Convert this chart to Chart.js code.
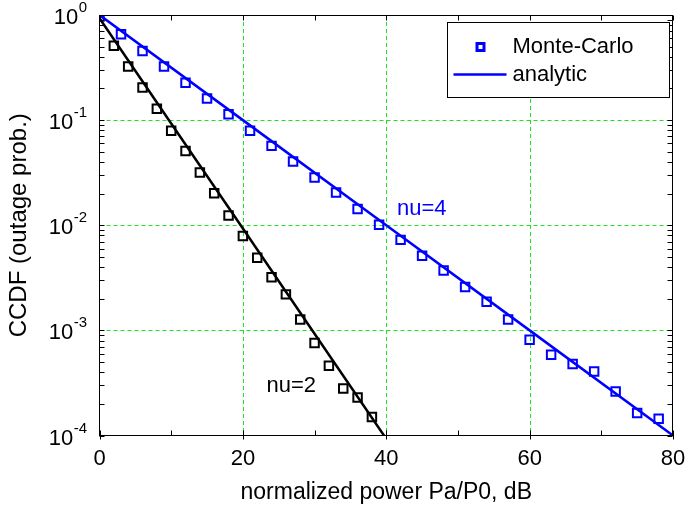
<!DOCTYPE html>
<html lang="en">
<head>
  <meta charset="UTF-8">
  <title>CCDF (outage prob.)</title>
  <script src="https://cdn.jsdelivr.net/npm/chart.js"></script>
  <style>
    html, body { margin: 0; padding: 0; background: #fff; }
  </style>
</head>
<body>
  <canvas id="ccdfChart" width="685" height="510"></canvas>

  <script>
    // Monte-Carlo points, nu=2 (black squares)
    const nu2X = [2, 4, 6, 8, 10, 12, 14, 16, 18, 20, 22, 24, 26, 28, 30, 32, 34, 36, 38];
    const nu2Y = [0.51, 0.323, 0.204, 0.128, 0.0794, 0.0509, 0.0317, 0.0202, 0.0124, 0.0079,
                  0.0049, 0.0032, 0.0022, 0.00127, 0.00076, 0.00046, 0.00028, 0.00023, 0.00015];

    // Monte-Carlo points, nu=4 (blue squares)
    const nu4X = [0, 3, 6, 9, 12, 15, 18, 21, 24, 27, 30, 33, 36, 39, 42, 45, 48, 51, 54,
                  57, 60, 63, 66, 69, 72, 75, 78];
    const nu4Y = [0.97, 0.656, 0.455, 0.323, 0.227, 0.161, 0.114, 0.0794, 0.0569, 0.0403,
                  0.0284, 0.0205, 0.0143, 0.0101, 0.00726, 0.00512, 0.00371, 0.00258, 0.00187,
                  0.00127, 0.000815, 0.000586, 0.000479, 0.000407, 0.000262, 0.000164, 0.000144];

    // analytic curves
    const nu2LineX = [0, 10, 20, 30, 40];
    const nu2LineY = [0.93, 0.093, 0.0093, 0.00093, 0.000093];
    const nu4LineX = [0, 20, 40, 60, 80];
    const nu4LineY = [1, 0.1, 0.01, 0.001, 0.0001];

    // axes
    const xGrid = [20, 40, 60];
    const xMinorTicks = [10, 30, 50, 70];
    const yDecades = [1, 0.1, 0.01, 0.001, 0.0001];
    const yExponents = ['0', '-1', '-2', '-3', '-4'];
    const yGrid = [0.1, 0.01, 0.001];

    // text labels placed in data coordinates
    const nu4Label = { text: 'nu=4', x: 41.5, y: 0.0125 };
    const nu2Label = { text: 'nu=2', x: 23.3, y: 0.00026 };

    const FONT = "'Liberation Sans', Arial, Helvetica, sans-serif";
    const BLUE = '#0000ff';
    const GRID_GREEN = 'rgb(30, 230, 30)';

    function points(xs, ys) {
      return xs.map((x, i) => ({ x: x, y: ys[i] }));
    }

    function seg(ctx, x1, y1, x2, y2) {
      ctx.beginPath();
      ctx.moveTo(x1, y1);
      ctx.lineTo(x2, y2);
      ctx.stroke();
    }

    const framePlugin = {
      id: 'matlabFrame',
      beforeDatasetsDraw(chart) {
        const { ctx, chartArea: a, scales: { x, y } } = chart;
        ctx.save();
        ctx.strokeStyle = GRID_GREEN;
        ctx.lineWidth = 1;
        ctx.setLineDash([4, 3]);
        xGrid.forEach(v => {
          const px = Math.round(x.getPixelForValue(v)) + 0.5;
          seg(ctx, px, a.top, px, a.bottom);
        });
        yGrid.forEach(v => {
          const py = Math.round(y.getPixelForValue(v)) + 0.5;
          seg(ctx, a.left, py, a.right, py);
        });
        ctx.restore();
      },
      afterDatasetsDraw(chart) {
        const { ctx, chartArea: a, scales: { x, y } } = chart;
        const L = Math.floor(a.left) + 0.5, R = Math.round(a.right) - 0.5;
        const T = Math.round(a.top) + 0.5, B = Math.round(a.bottom) - 0.5;
        const tl = 5;
        ctx.save();
        ctx.strokeStyle = '#000';
        ctx.lineWidth = 1;
        ctx.strokeRect(L, T, R - L, B - T);

        // x ticks (bottom and top, pointing inside)
        [0, 20, 40, 60, 80].forEach(v => {
          const px = Math.round(x.getPixelForValue(v)) + 0.5;
          seg(ctx, px, B + 4, px, B - tl);
          seg(ctx, px, T, px, T + tl);
        });
        xMinorTicks.forEach(v => {
          const px = Math.round(x.getPixelForValue(v)) + 0.5;
          seg(ctx, px, B, px, B - tl);
          seg(ctx, px, T, px, T + tl);
        });

        // y ticks: decades and log minor ticks, left and right
        const yt = [];
        for (let e = -4; e < 0; e++) {
          for (let k = 1; k < 10; k++) yt.push(k * Math.pow(10, e));
        }
        yt.forEach(v => {
          const py = Math.round(y.getPixelForValue(v)) + 0.5;
          seg(ctx, L, py, L + tl, py);
          seg(ctx, R, py, R - tl, py);
        });
        ctx.restore();
      },
      afterDraw(chart) {
        const { ctx, chartArea: a, scales: { x, y } } = chart;
        ctx.save();
        ctx.fillStyle = '#000';

        // y tick labels 10^n
        yDecades.forEach((v, i) => {
          const py = y.getPixelForValue(v);
          const right = a.left - 12.5;
          ctx.font = '15px ' + FONT;
          const we = ctx.measureText(yExponents[i]).width;
          ctx.textAlign = 'left';
          ctx.textBaseline = 'alphabetic';
          ctx.fillText(yExponents[i], right - we, py - 3);
          ctx.font = '22px ' + FONT;
          ctx.textAlign = 'right';
          ctx.fillText('10', right - we - 0.5, py + 9);
        });

        // curve labels
        ctx.font = '22px ' + FONT;
        ctx.textAlign = 'left';
        ctx.textBaseline = 'alphabetic';
        ctx.fillStyle = BLUE;
        ctx.fillText(nu4Label.text, x.getPixelForValue(nu4Label.x), y.getPixelForValue(nu4Label.y));
        ctx.fillStyle = '#000';
        ctx.fillText(nu2Label.text, x.getPixelForValue(nu2Label.x), y.getPixelForValue(nu2Label.y));

        // legend box
        const lx = Math.round(a.right) - 225.5, ly = Math.round(a.top) + 7.5;
        const lw = 222, lh = 75;
        ctx.fillStyle = '#fff';
        ctx.fillRect(lx, ly, lw, lh);
        ctx.strokeStyle = '#000';
        ctx.lineWidth = 1;
        ctx.strokeRect(lx, ly, lw, lh);

        ctx.strokeStyle = BLUE;
        ctx.lineWidth = 3;
        ctx.strokeRect(lx + 29.5, ly + 21, 7, 7);
        ctx.lineWidth = 2.5;
        seg(ctx, lx + 6, ly + 52, lx + 59, ly + 52);

        ctx.fillStyle = '#000';
        ctx.font = '22px ' + FONT;
        ctx.textBaseline = 'middle';
        ctx.textAlign = 'left';
        ctx.fillText('Monte-Carlo', lx + 65, ly + 24);
        ctx.fillText('analytic', lx + 65, ly + 52);
        ctx.restore();
      }
    };

    const ctx = document.getElementById('ccdfChart').getContext('2d');
    new Chart(ctx, {
      type: 'scatter',
      data: {
        datasets: [
          {
            label: 'analytic nu=2',
            data: points(nu2LineX, nu2LineY),
            showLine: true,
            borderColor: '#000',
            borderWidth: 2.5,
            pointRadius: 0,
            order: 0
          },
          {
            label: 'analytic nu=4',
            data: points(nu4LineX, nu4LineY),
            showLine: true,
            borderColor: BLUE,
            borderWidth: 2.5,
            pointRadius: 0,
            order: 0
          },
          {
            label: 'Monte-Carlo nu=2',
            data: points(nu2X, nu2Y),
            showLine: false,
            pointStyle: 'rect',
            pointRadius: 6,
            pointBorderWidth: 2,
            borderColor: '#000',
            backgroundColor: 'rgba(0,0,0,0)',
            order: 1
          },
          {
            label: 'Monte-Carlo nu=4',
            data: points(nu4X, nu4Y),
            showLine: false,
            pointStyle: 'rect',
            pointRadius: 6,
            pointBorderWidth: 2,
            borderColor: BLUE,
            backgroundColor: 'rgba(0,0,0,0)',
            order: 1
          }
        ]
      },
      options: {
        responsive: false,
        animation: false,
        layout: { padding: { top: 15, right: 0, left: 0, bottom: 0 } },
        plugins: {
          legend: { display: false },
          tooltip: { enabled: false }
        },
        scales: {
          x: {
            type: 'linear',
            min: 0,
            max: 80,
            ticks: { stepSize: 20, padding: 10, color: '#000', font: { family: FONT, size: 22 }, maxRotation: 0 },
            grid: { display: false, drawTicks: false },
            border: { display: false },
            title: {
              display: true,
              text: 'normalized power Pa/P0, dB',
              color: '#000',
              font: { family: FONT, size: 23 },
              padding: { top: 0, bottom: 4 }
            },
            afterFit: s => { s.height = 74.5; s.paddingRight = 12; }
          },
          y: {
            type: 'logarithmic',
            min: 0.0001,
            max: 1,
            ticks: { display: false },
            grid: { display: false, drawTicks: false },
            border: { display: false },
            title: {
              display: true,
              text: 'CCDF (outage prob.)',
              color: '#000',
              font: { family: FONT, size: 24 },
              padding: { top: 5, bottom: 0 }
            },
            afterFit: s => { s.width = 99.5; }
          }
        }
      },
      plugins: [framePlugin]
    });
  </script>
</body>
</html>
